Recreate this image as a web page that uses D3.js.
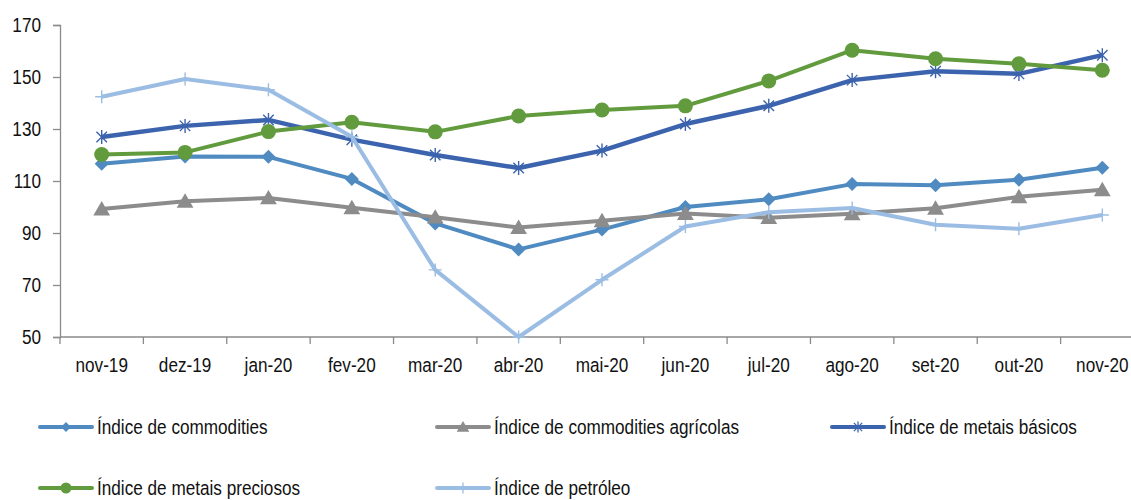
<!DOCTYPE html>
<html>
<head>
<meta charset="utf-8">
<script src="https://cdn.jsdelivr.net/npm/d3@7"></script>
<style>
  html, body { margin: 0; padding: 0; background: #fff; }
  svg { display: block; font-family: "Liberation Sans", Arial, sans-serif; }
</style>
</head>
<body>
<svg id="chart" width="1131" height="500"></svg>
<script>
// Monthly index values, nov-19 to nov-20
const months = ["nov-19","dez-19","jan-20","fev-20","mar-20","abr-20","mai-20","jun-20","jul-20","ago-20","set-20","out-20","nov-20"];
const yTicks = [50, 70, 90, 110, 130, 150, 170];

const commodities = [116.6, 119.4, 119.3, 110.8, 93.7, 83.7, 91.3, 100.0, 103.0, 108.8, 108.4, 110.5, 115.1];
const agricolas   = [99.2, 102.2, 103.5, 99.7, 96.1, 92.1, 94.7, 97.5, 95.9, 97.4, 99.5, 103.9, 106.6];
const metaisBasicos = [126.9, 131.2, 133.5, 125.9, 120.0, 115.0, 121.7, 131.9, 138.9, 148.8, 152.2, 151.2, 158.4];
const metaisPreciosos = [120.2, 121.0, 129.0, 132.6, 128.9, 135.0, 137.3, 138.9, 148.5, 160.3, 157.0, 155.1, 152.6];
const petroleo = [142.4, 149.2, 145.1, 127.0, 75.8, 50.0, 72.0, 92.5, 98.0, 99.6, 93.2, 91.6, 96.9];

const seriesNames = ["Índice de commodities", "Índice de commodities agrícolas", "Índice de metais básicos", "Índice de metais preciosos", "Índice de petróleo"];

const series = [
  { name: seriesNames[0], values: commodities,     color: "#4f8bc1", width: 4,   marker: "diamond" },
  { name: seriesNames[1], values: agricolas,       color: "#8c8c8c", width: 4,   marker: "triangle" },
  { name: seriesNames[2], values: metaisBasicos,   color: "#3c63ad", width: 4.5, marker: "asterisk" },
  { name: seriesNames[3], values: metaisPreciosos, color: "#629b3d", width: 4,   marker: "circle" },
  { name: seriesNames[4], values: petroleo,        color: "#9bbde4", width: 4,   marker: "plus" }
];

const svg = d3.select("#chart");
const plot = { left: 60, right: 1144, top: 25, bottom: 337 };
const fontSize = 19.5;     // tall, slightly condensed lettering
const squeeze = 0.88;

const x = d3.scaleBand().domain(months).range([plot.left, plot.right]).padding(0);
const y = d3.scaleLinear().domain([50, 170]).range([plot.bottom, plot.top]);
const axisColor = "#8a8a8a";

// condensed text helper: places a label at (px, py) and squeezes it horizontally
function label(parent, px, py, str, anchor) {
  return parent.append("text")
    .attr("transform", `translate(${px},${py}) scale(${squeeze},1)`)
    .attr("text-anchor", anchor)
    .attr("font-size", fontSize)
    .attr("fill", "#111")
    .text(str);
}

// Y axis
const yAxis = svg.append("g")
  .attr("transform", `translate(${plot.left},0)`)
  .call(d3.axisLeft(y).tickValues(yTicks).tickSize(7).tickFormat(""));
yAxis.select(".domain").attr("stroke", axisColor).attr("stroke-width", 1.3);
yAxis.selectAll(".tick line").attr("stroke", axisColor).attr("stroke-width", 1.3);
yTicks.forEach(t => label(svg, 41, y(t) + 7, String(t), "end"));

// X axis: ticks sit on category boundaries, labels centred in each band
const boundaries = months.map(m => x(m)).concat([plot.right]);
const xg = svg.append("g");
xg.append("line")
  .attr("x1", plot.left).attr("x2", plot.right)
  .attr("y1", plot.bottom).attr("y2", plot.bottom)
  .attr("stroke", axisColor).attr("stroke-width", 1.3);
xg.selectAll("line.tick").data(boundaries).join("line")
  .attr("class", "tick")
  .attr("x1", d => d).attr("x2", d => d)
  .attr("y1", plot.bottom).attr("y2", plot.bottom + 7)
  .attr("stroke", axisColor).attr("stroke-width", 1.3);
months.forEach(m => label(xg, x(m) + x.bandwidth() / 2, 372, m, "middle"));

// Marker shapes
function markerPath(type, s) {
  switch (type) {
    case "diamond":
      return `M0,${-s} L${s},0 L0,${s} L${-s},0 Z`;
    case "triangle":
      return `M0,${-s} L${s * 1.05},${s * 0.8} L${-s * 1.05},${s * 0.8} Z`;
    case "circle":
      return d3.symbol(d3.symbolCircle, Math.PI * s * s)();
    case "asterisk": {
      const d = s * 0.75;
      return `M${-d},${-d} L${d},${d} M${-d},${d} L${d},${-d} M0,${-s} L0,${s}`;
    }
    case "plus":
      return `M${-s},0 L${s},0 M0,${-s} L0,${s}`;
  }
}
const markerSize = { diamond: 7, triangle: 8, circle: 7.5, asterisk: 7, plus: 6.5 };
const legendMarkerSize = { diamond: 5, triangle: 6, circle: 5.5, asterisk: 5.5, plus: 5.5 };
const strokeMarkers = new Set(["asterisk", "plus"]);

const line = d3.line()
  .x((d, i) => x(months[i]) + x.bandwidth() / 2)
  .y(d => y(d));

series.forEach(s => {
  const g = svg.append("g");
  g.append("path")
    .datum(s.values)
    .attr("d", line)
    .attr("fill", "none")
    .attr("stroke", s.color)
    .attr("stroke-width", s.width)
    .attr("stroke-linejoin", "round");
  g.selectAll("path.mk").data(s.values).join("path")
    .attr("class", "mk")
    .attr("transform", (d, i) => `translate(${x(months[i]) + x.bandwidth() / 2},${y(d)})`)
    .attr("d", markerPath(s.marker, markerSize[s.marker]))
    .attr("fill", strokeMarkers.has(s.marker) ? "none" : s.color)
    .attr("stroke", s.color)
    .attr("stroke-width", strokeMarkers.has(s.marker) ? 1.4 : 0);
});

// Legend: three columns, two rows
const legendPos = [
  { x: 40, y: 427 }, { x: 437, y: 427 }, { x: 832, y: 427 },
  { x: 40, y: 488 }, { x: 437, y: 488 }
];
series.forEach((s, i) => {
  const p = legendPos[i];
  const g = svg.append("g").attr("transform", `translate(${p.x},${p.y})`);
  g.append("line")
    .attr("x1", 0).attr("x2", 52).attr("y1", 0).attr("y2", 0)
    .attr("stroke", s.color).attr("stroke-width", 4).attr("stroke-linecap", "round");
  g.append("path")
    .attr("transform", "translate(26,0)")
    .attr("d", markerPath(s.marker, legendMarkerSize[s.marker]))
    .attr("fill", strokeMarkers.has(s.marker) ? "none" : s.color)
    .attr("stroke", s.color)
    .attr("stroke-width", strokeMarkers.has(s.marker) ? 1.3 : 0);
  label(g, 57, 7, s.name, "start");
});
</script>
</body>
</html>
